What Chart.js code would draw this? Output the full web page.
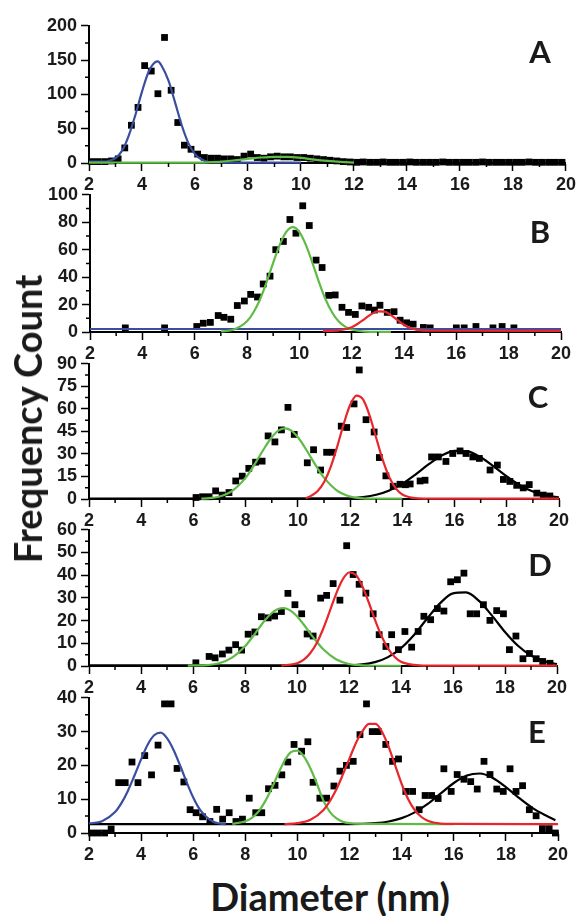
<!DOCTYPE html>
<html>
<head>
<meta charset="utf-8">
<script src="https://cdn.jsdelivr.net/npm/chart.js@4.4.1/dist/chart.umd.min.js"></script>
<style>
  body { margin: 0; background: #fff; }
  #wrap { position: relative; width: 579px; height: 916px; overflow: hidden; }
  canvas { position: absolute; left: 0; }
  .letter { position: absolute; font: 700 31px Lato, sans-serif; color: #1a1a1a; transform: translate(-50%, -50%); }
  #ytitle { position: absolute; left: 27px; top: 419px; font: 700 38px Lato, sans-serif; color: #1a1a1a;
            white-space: nowrap; transform: translate(-50%, -50%) rotate(-90deg); }
  #xtitle { position: absolute; left: 330px; top: 896px; font: 700 38px Lato, sans-serif; color: #1a1a1a;
            white-space: nowrap; transform: translate(-50%, -50%); }
</style>
</head>
<body>
<div id="wrap">
  <canvas id="cA"></canvas>
  <canvas id="cB"></canvas>
  <canvas id="cC"></canvas>
  <canvas id="cD"></canvas>
  <canvas id="cE"></canvas>
  <div class="letter" style="left:540px;top:51px">A</div>
  <div class="letter" style="left:540px;top:231px">B</div>
  <div class="letter" style="left:538px;top:396px">C</div>
  <div class="letter" style="left:540px;top:564px">D</div>
  <div class="letter" style="left:537px;top:731px">E</div>
  <div id="ytitle">Frequency Count</div>
  <div id="xtitle">Diameter (nm)</div>
</div>
<script>
// x axis ticks, shared by all panels
const xTicks = [2, 4, 6, 8, 10, 12, 14, 16, 18, 20];

// ---- panel A ----
const aPtsX = [2.1, 2.35, 2.6, 2.85, 3.1, 3.35, 3.6, 3.85, 4.1, 4.35, 4.6, 4.85, 5.1, 5.35, 5.6, 5.85, 6.1, 6.35, 6.6, 6.85,
               7.1, 7.35, 7.6, 7.85, 8.1, 8.35, 8.6, 8.85, 9.1, 9.35, 9.6, 9.85, 10.1, 10.35, 10.6, 10.85, 11.1, 11.35, 11.6, 11.85,
               12.1, 12.35, 12.6, 12.85, 13.1, 13.35, 13.6, 13.85, 14.1, 14.35, 14.6, 14.85, 15.1, 15.35, 15.6, 15.85,
               16.1, 16.35, 16.6, 16.85, 17.1, 17.35, 17.6, 17.85, 18.1, 18.35, 18.6, 18.85, 19.1, 19.35, 19.6, 19.85];
const aPtsY = [2, 2, 2, 3, 6, 22, 55, 81, 142, 134, 101, 183, 106, 59, 26, 20, 13, 8, 7, 7,
               6, 6, 5, 10, 13, 8, 7, 9, 10, 9, 9, 8, 8, 7, 6, 5, 4, 3, 2, 1.5,
               1, 1.5, 1, 1, 1.5, 1, 1, 1, 1.5, 1, 1, 1, 1, 1.5, 1, 1,
               1, 1, 1, 1.5, 1, 1, 1, 1, 1, 1, 1.5, 1, 1, 1, 1, 1];
const aBlueX = [2, 2.5, 2.75, 3, 3.25, 3.5, 3.75, 4, 4.25, 4.5, 4.6, 4.75, 5, 5.25, 5.5, 5.75, 6, 6.25, 6.5, 7, 10];
const aBlueY = [2, 2, 3, 7, 18, 40, 70, 104, 133, 147, 148, 141, 120, 88, 55, 29, 13, 5, 1.5, 0.5, 0.5];
const aGreenX = [2, 6, 6.5, 7, 7.5, 8, 8.5, 9, 9.5, 10, 10.5, 11, 11.5, 12];
const aGreenY = [0.5, 0.5, 1, 2, 4, 6, 8, 9, 9, 7.5, 5, 3, 1.5, 0.5];

// ---- panel B ----
const bPtsX = [3.35, 4.85, 6.08, 6.33, 6.6, 6.9, 7.12, 7.38, 7.63, 7.9, 8.14, 8.4, 8.62, 8.88, 9.1, 9.39, 9.64, 9.87,
               10.13, 10.38, 10.64, 10.87, 11.12, 11.37, 11.63, 11.88, 12.14, 12.39, 12.65, 12.87, 13.08, 13.36, 13.62, 13.85,
               14.1, 14.35, 14.74, 15.0, 16.0, 16.3, 16.75, 17.4, 17.75, 18.2];
const bPtsY = [3, 3, 4, 6.4, 7, 12, 10.7, 9.3, 19.3, 22.6, 27.4, 25.5, 35, 40.7, 60, 66, 82, 72,
               92, 77.6, 52.4, 47, 26.7, 27, 18, 14.3, 12.8, 19, 18, 16, 19.5, 14.3, 14.8, 8.6,
               6.7, 5.7, 3.3, 3, 3, 3, 4, 3, 4, 3];
const bBlueX = [2, 20];
const bBlueY = [2.2, 2.2];
const bGreenX = [7, 7.5, 8, 8.25, 8.5, 8.75, 9, 9.25, 9.5, 9.75, 10, 10.25, 10.5, 10.75, 11, 11.25, 11.5, 11.75, 12, 12.5, 13, 13.5];
const bGreenY = [0.3, 1.8, 7.8, 14.4, 23.9, 36.4, 50.4, 63.5, 73, 76.5, 73, 63.5, 50.4, 36.4, 23.9, 14.4, 7.8, 3.9, 1.8, 0.3, 0.1, 0.1];
const bRedX = [10.9, 11.5, 12, 12.25, 12.5, 12.75, 13, 13.25, 13.5, 13.75, 14, 14.25, 14.5, 15, 20];
const bRedY = [0.8, 1.2, 3.5, 6.2, 9.6, 13, 15, 14.8, 12.3, 8.8, 5.3, 2.9, 1.6, 0.9, 0.8];

// ---- panel C ----
const cPtsX = [6.1, 6.35, 6.6, 6.85, 7.1, 7.36, 7.62, 7.87, 8.12, 8.38, 8.63, 8.86, 9.12, 9.37, 9.62, 9.86,
               10.36, 10.6, 10.87, 11.1, 11.33, 11.66, 11.87, 12.15, 12.35, 12.61, 12.92, 13.12, 13.37, 13.65, 13.91,
               14.12, 14.3, 14.68, 14.87, 15.12, 15.38, 15.67, 15.93, 16.21, 16.44, 16.7, 16.95, 17.36, 17.64, 17.87,
               18.12, 18.38, 18.63, 18.86, 19.15, 19.4, 19.65];
const cPtsY = [1, 1.5, 1.5, 5.4, 2.6, 4.3, 12, 15.2, 20.4, 24.5, 25.2, 42, 38, 46, 61, 43,
               24.1, 32.8, 19.3, 31.1, 31.1, 48.5, 47.6, 63.3, 85.9, 52.8, 44.6, 27.6, 15.4, 8.5, 9.8,
               9.5, 10, 12, 12.5, 28, 28, 25, 30.3, 32, 30.3, 28, 27, 19.3, 22.6, 13,
               11.7, 9.1, 7.4, 9.6, 3.9, 2.6, 2];
const cGreenX = [6.3, 6.5, 7, 7.5, 8, 8.25, 8.5, 8.75, 9, 9.25, 9.5, 9.75, 10, 10.25, 10.5, 10.75, 11, 11.5, 12, 12.5, 13, 14];
const cGreenY = [0.2, 0.4, 1.7, 5.6, 14.2, 20.5, 27.6, 34.8, 41.1, 45.5, 47, 45.5, 41.1, 34.8, 27.6, 20.5, 14.2, 5.6, 1.7, 0.4, 0.2, 0.2];
const cRedX = [10.3, 10.5, 10.75, 11, 11.25, 11.5, 11.75, 12, 12.25, 12.5, 12.75, 13, 13.25, 13.5, 13.75, 14, 14.5, 15, 20];
const cRedY = [0.5, 2.1, 5.1, 11.1, 21, 34.5, 49.7, 62.6, 68.8, 66.1, 55.4, 40.6, 26, 14.5, 7.1, 3, 0.6, 0.3, 0.3];
const cBlackX = [2, 12, 12.5, 13, 13.5, 14, 14.5, 15, 15.5, 16, 16.5, 17, 17.5, 18, 18.5, 19, 19.5, 20];
const cBlackY = [0.3, 0.5, 1.2, 2.8, 5.7, 10.2, 16.3, 23, 28.8, 32.1, 31.7, 27.8, 21.7, 15, 9.2, 5, 2.4, 1];

// ---- panel D ----
const dPtsX = [6.11, 6.62, 6.85, 7.13, 7.38, 7.64, 7.87, 8.12, 8.38, 8.63, 8.89, 9.14, 9.4, 9.65, 9.92, 10.18, 10.39, 10.62,
               10.91, 11.14, 11.39, 11.65, 11.91, 12.16, 12.39, 12.65, 12.93, 13.16, 13.42, 13.64, 13.9, 14.15, 14.41, 14.66,
               14.88, 15.14, 15.4, 15.65, 15.91, 16.17, 16.42, 16.66, 16.91, 17.17, 17.42, 17.68, 17.94, 18.17, 18.42,
               18.69, 18.94, 19.2, 19.45, 19.73];
const dPtsY = [1.4, 4.2, 3.6, 5.3, 7, 9.4, 7, 14, 15, 21.7, 21.2, 22, 24, 32, 27, 23, 14.1, 13.2,
               29.9, 31.1, 36.3, 29, 53, 40.3, 36, 32.1, 23, 13.8, 8.6, 13.8, 7.2, 15.2, 8.3, 15.2,
               21.9, 20.4, 25.3, 24.2, 37.1, 38, 40.9, 23, 23, 27, 20.1, 24.4, 23, 7.2, 13.2,
               3.2, 5.5, 3.2, 2, 1.2];
const dGreenX = [5.8, 6.5, 7, 7.5, 8, 8.25, 8.5, 8.75, 9, 9.25, 9.5, 9.75, 10, 10.25, 10.5, 10.75, 11, 11.5, 12, 12.5, 13, 14];
const dGreenY = [0.2, 0.4, 1.2, 3.7, 8.7, 12.2, 16.1, 19.9, 23, 25, 25.5, 24.4, 21.9, 18.4, 14.5, 10.8, 7.5, 3, 0.9, 0.3, 0.1, 0.1];
const dRedX = [9.4, 10, 10.25, 10.5, 10.75, 11, 11.25, 11.5, 11.75, 12, 12.25, 12.5, 12.75, 13, 13.25, 13.5, 13.75, 14, 14.5, 15, 20];
const dRedY = [0.2, 1.2, 2.7, 5.5, 9.9, 16.2, 23.8, 31.7, 38, 41.2, 40.3, 35.5, 28.3, 20.3, 13.2, 7.7, 4.1, 1.9, 0.5, 0.2, 0.2];
const dBlackX = [2, 12, 12.5, 13, 13.5, 14, 14.5, 15, 15.5, 16, 16.5, 17, 17.5, 18, 18.5, 19, 19.5, 20];
const dBlackY = [0.3, 0.3, 0.7, 1.7, 3.9, 7.9, 13.7, 20.8, 27.6, 32, 32.4, 28.7, 22.2, 15, 8.9, 4.6, 2.1, 0.8];

// ---- panel E ----
const ePtsX = [2.1, 2.35, 2.6, 2.85, 3.14, 3.39, 3.65, 3.88, 4.14, 4.4, 4.65, 4.9, 5.15, 5.38, 5.64, 5.88, 6.11, 6.36, 6.64,
               6.9, 7.13, 7.38, 7.64, 7.89, 8.15, 8.4, 8.63, 8.89, 9.14, 9.4, 9.63, 9.87, 10.16, 10.4, 10.6, 10.86, 11.12,
               11.4, 11.63, 11.88, 12.14, 12.4, 12.65, 12.87, 13.1, 13.39, 13.65, 13.88, 14.16, 14.42, 14.67, 14.9, 15.15,
               15.4, 15.62, 15.9, 16.13, 16.39, 16.65, 16.9, 17.16, 17.39, 17.65, 17.9, 18.16, 18.39, 18.64, 18.9, 19.16,
               19.4, 19.66, 19.9];
const ePtsY = [0, 0, 0, 1.2, 14.9, 14.9, 21, 14.9, 22.9, 17.2, 26, 38.2, 38.2, 19.1, 15.1, 6.9, 6, 4.8, 3.4,
               7, 4.1, 6, 3.4, 4.1, 10.3, 6, 6, 13.1, 14.1, 17.2, 21, 26.2, 24.2, 27, 15, 10.3, 10.3,
               13.9, 18.3, 20, 21.2, 29.1, 38.2, 30, 30, 26.2, 21.2, 21.9, 12.3, 12.3, 6.9, 11.1, 11.1,
               10.2, 19, 12.3, 17.3, 15.9, 15.2, 13, 21.2, 17.3, 13, 12.3, 19, 12.3, 14, 6.9, 5.1,
               1.3, 1.3, 0];
const eBlueX = [2, 2.5, 3, 3.25, 3.5, 3.75, 4, 4.25, 4.5, 4.75, 5, 5.25, 5.5, 5.75, 6, 6.25, 6.5, 6.75, 7, 7.25];
const eBlueY = [2.8, 3.5, 6.2, 8.9, 12.6, 17.1, 21.8, 26.1, 28.9, 29.7, 28, 24.5, 19.9, 15, 10.5, 7, 4.8, 3.4, 2.8, 2.6];
const eGreenX = [7.5, 8, 8.25, 8.5, 8.75, 9, 9.25, 9.5, 9.75, 10, 10.25, 10.5, 10.75, 11, 11.25, 11.5, 11.75, 12, 12.5, 16];
const eGreenY = [2.7, 3.5, 4.5, 6.3, 9.2, 13, 17.3, 21.3, 23.9, 24.4, 22.6, 19.1, 14.5, 9.5, 6.2, 4.3, 3.3, 2.9, 2.7, 2.6];
const eRedX = [9.5, 10, 10.5, 11, 11.25, 11.5, 11.75, 12, 12.25, 12.5, 12.75, 13, 13.25, 13.5, 13.75, 14, 14.25, 14.5, 14.75, 15, 15.5, 16, 20];
const eRedY = [2.6, 2.9, 3.9, 6.8, 9.5, 13, 17.4, 22.1, 26.7, 30.2, 32.3, 32.3, 29.9, 25.5, 20, 14.5, 10, 6.8, 4.8, 3.6, 2.8, 2.7, 2.6];
const eBlackX = [2, 12, 13, 13.5, 14, 14.5, 15, 15.5, 16, 16.5, 17, 17.5, 18, 18.5, 19, 19.5, 19.9];
const eBlackY = [2.6, 2.6, 2.9, 3.4, 4.4, 6.1, 8.6, 11.7, 14.8, 17, 17.6, 16.3, 13.6, 10.4, 7.5, 5.3, 3.8];

const BLUE = '#3a4ea0', GREEN = '#5fbb46', RED = '#e8262b', BLACK = '#000000';
const tickFont = { family: '"Liberation Sans", Arial, sans-serif', size: 18, weight: 'bold' };

function pts(xs, ys) {
  return xs.map((x, i) => ({ x: x, y: ys[i] }));
}
function fit(xs, ys, color) {
  return { data: pts(xs, ys), showLine: true, borderColor: color, borderWidth: 2.2, pointRadius: 0,
           cubicInterpolationMode: 'monotone', clip: false };
}
function dots(xs, ys) {
  return { data: pts(xs, ys), showLine: false, pointStyle: 'rect', pointRadius: 4.8,
           backgroundColor: '#000', borderColor: '#000', borderWidth: 0, clip: false };
}

// short ticks between the labelled ones
const minorTicks = {
  id: 'minorTicks',
  afterDraw(chart, args, opts) {
    const ctx = chart.ctx, area = chart.chartArea;
    const xs = chart.scales.x, ys = chart.scales.y;
    ctx.save();
    ctx.strokeStyle = '#000';
    ctx.lineWidth = 1.5;
    ctx.beginPath();
    for (let v = xs.min + opts.x; v < xs.max; v += opts.x * 2) {
      const px = xs.getPixelForValue(v);
      ctx.moveTo(px, area.bottom);
      ctx.lineTo(px, area.bottom + 4);
    }
    for (let v = ys.min + opts.y; v < ys.max; v += opts.y * 2) {
      const py = ys.getPixelForValue(v);
      ctx.moveTo(area.left, py);
      ctx.lineTo(area.left - 4, py);
    }
    ctx.stroke();
    ctx.restore();
  }
};

function makePanel(id, p, datasets) {
  const canvas = document.getElementById(id);
  const h = (p.bottom - p.top) + 12 + 30;
  canvas.width = 579;
  canvas.height = h;
  canvas.style.width = '579px';
  canvas.style.height = h + 'px';
  canvas.style.top = (p.top - 12) + 'px';

  return new Chart(canvas, {
    type: 'scatter',
    data: { datasets: datasets },
    options: {
      responsive: false,
      animation: false,
      events: [],
      layout: { padding: { top: 12, right: 579 - p.right, left: 0, bottom: 0 } },
      plugins: {
        legend: { display: false },
        tooltip: { enabled: false },
        minorTicks: { x: 1, y: p.yStep / 2 }
      },
      scales: {
        x: {
          type: 'linear', min: xTicks[0], max: xTicks[xTicks.length - 1],
          afterBuildTicks: s => { s.ticks = xTicks.map(v => ({ value: v })); },
          ticks: { font: tickFont, color: '#1a1a1a', padding: 3, maxRotation: 0, autoSkip: false },
          grid: { drawOnChartArea: false, tickLength: 8, tickWidth: 1.5, tickColor: '#000' },
          border: { color: '#000', width: 2 },
          afterFit: s => { s.height = 30; }
        },
        y: {
          type: 'linear', min: 0, max: p.yMax,
          ticks: { stepSize: p.yStep, font: tickFont, color: '#1a1a1a', padding: 4, autoSkip: false },
          grid: { drawOnChartArea: false, tickLength: 8, tickWidth: 1.5, tickColor: '#000' },
          border: { color: '#000', width: 2 },
          afterFit: s => { s.width = p.left; }
        }
      }
    },
    plugins: [minorTicks]
  });
}

makePanel('cA', { top: 23, bottom: 163, left: 89, right: 566, yMax: 200, yStep: 50 }, [
  fit(aGreenX, aGreenY, GREEN),
  fit(aBlueX, aBlueY, BLUE),
  dots(aPtsX, aPtsY)
]);
makePanel('cB', { top: 192, bottom: 332, left: 90, right: 561, yMax: 100, yStep: 20 }, [
  fit(bRedX, bRedY, RED),
  fit(bGreenX, bGreenY, GREEN),
  fit(bBlueX, bBlueY, BLUE),
  dots(bPtsX, bPtsY)
]);
makePanel('cC', { top: 361, bottom: 499, left: 89, right: 559, yMax: 90, yStep: 15 }, [
  fit(cRedX, cRedY, RED),
  fit(cGreenX, cGreenY, GREEN),
  fit(cBlackX, cBlackY, BLACK),
  dots(cPtsX, cPtsY)
]);
makePanel('cD', { top: 527, bottom: 666, left: 89, right: 557, yMax: 60, yStep: 10 }, [
  fit(dRedX, dRedY, RED),
  fit(dGreenX, dGreenY, GREEN),
  fit(dBlackX, dBlackY, BLACK),
  dots(dPtsX, dPtsY)
]);
makePanel('cE', { top: 695, bottom: 833, left: 89, right: 558, yMax: 40, yStep: 10 }, [
  fit(eRedX, eRedY, RED),
  fit(eGreenX, eGreenY, GREEN),
  fit(eBlueX, eBlueY, BLUE),
  fit(eBlackX, eBlackY, BLACK),
  dots(ePtsX, ePtsY)
]);
</script>
</body>
</html>
